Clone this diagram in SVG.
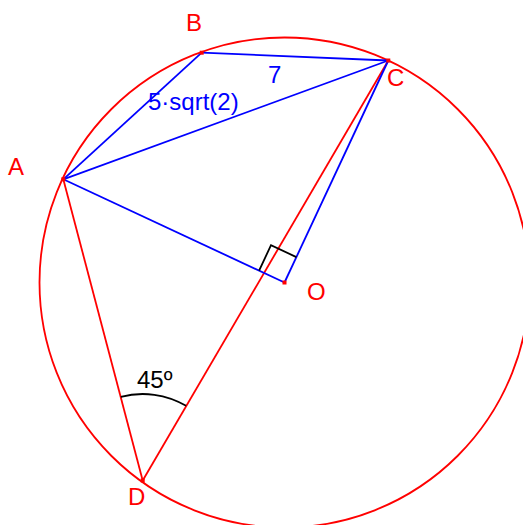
<svg xmlns="http://www.w3.org/2000/svg" width="523" height="525" viewBox="0 0 523 525">
<style>
.lbl{font-family:"Liberation Sans",Arial,sans-serif;font-size:24px}
.red{fill:#ff0000}
.blue{fill:#0000ff}
.rl{stroke:#ff0000;stroke-width:1.8;fill:none}
.bl{stroke:#0000ff;stroke-width:1.8;fill:none}
.kl{stroke:#000;stroke-width:1.8;fill:none}
</style>
<rect width="523" height="525" fill="#fff"/>
<g id="circle"><circle cx="284.5" cy="282.5" r="245" class="rl"/></g>
<g id="connectors">
<line x1="63.3" y1="179.3" x2="142.7" y2="480.5" class="rl"/>
<line x1="388.3" y1="60.5" x2="142.7" y2="480.5" class="rl"/>
<line x1="63.3" y1="179.3" x2="201.7" y2="52.7" class="bl"/>
<line x1="201.7" y1="52.7" x2="388.3" y2="60.5" class="bl"/>
<line x1="63.3" y1="179.3" x2="388.3" y2="60.5" class="bl"/>
<line x1="63.3" y1="179.3" x2="284.5" y2="282.5" class="bl"/>
<line x1="388.3" y1="60.5" x2="284.5" y2="282.5" class="bl"/>
<polyline points="259.1,270.6 271.0,245.2 296.4,257.1" class="kl"/>
<path d="M120.8 396.8 A86 86 0 0 1 186.1 405.8" class="kl"/>
</g>
<g id="A"><rect x="61.3" y="177.3" width="4" height="4" class="red"/><text x="8" y="175" class="lbl red">A</text></g>
<g id="B"><rect x="199.7" y="50.7" width="4" height="4" class="red"/><text x="186" y="31" class="lbl red">B</text></g>
<g id="C"><rect x="386.3" y="58.5" width="4" height="4" class="red"/><text x="387" y="86" class="lbl red">C</text></g>
<g id="O"><rect x="282.5" y="280.5" width="4" height="4" class="red"/><text x="307" y="300" class="lbl red">O</text></g>
<g id="D"><rect x="140.7" y="478.5" width="4" height="4" class="red"/><text x="128" y="505" class="lbl red">D</text></g>
<g id="labels">
<text x="268" y="83" class="lbl blue">7</text>
<text x="148" y="110" class="lbl blue">5·sqrt(2)</text>
<text x="137" y="388" class="lbl" fill="#000" font-size="22">45º</text>
</g>
</svg>
